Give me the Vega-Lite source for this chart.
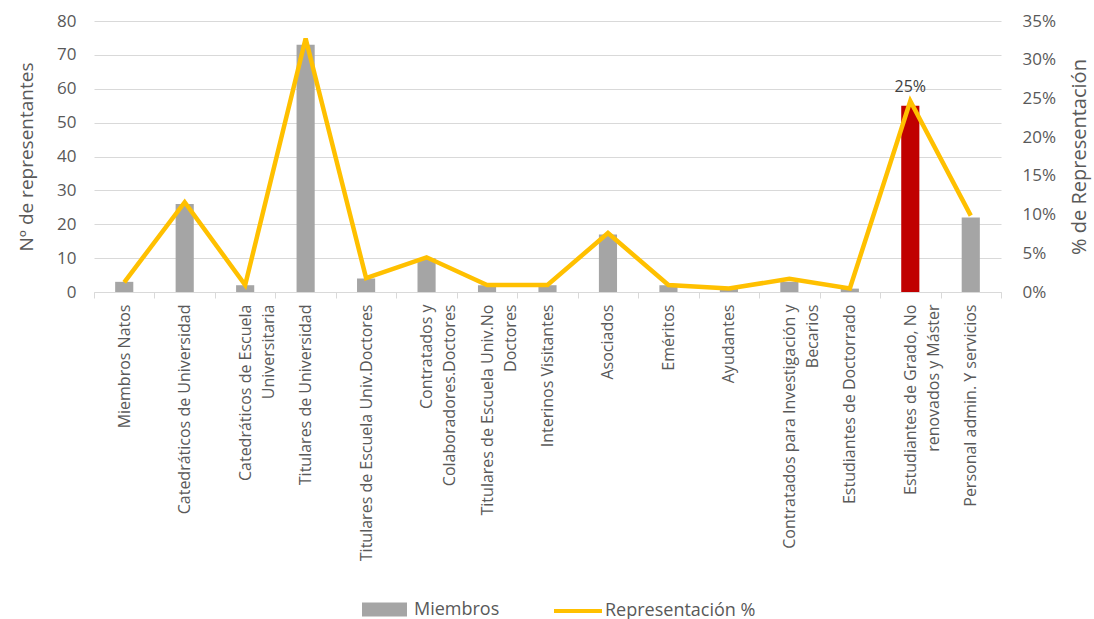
{
  "$schema": "https://vega.github.io/schema/vega-lite/v6.json",
  "width": 907,
  "height": 271,
  "autosize": {"type": "none"},
  "padding": {"left": 94, "top": 21, "right": 93, "bottom": 327},
  "background": "white",
  "config": {
    "font": "Open Sans",
    "view": {"stroke": null},
    "axis": {"labelColor": "#595959", "titleColor": "#595959", "titleFontWeight": "normal"}
  },
  "data": {
    "values": [
      {"cat": "Miembros Natos", "miembros": 3, "pct": 0.0125, "destacado": false},
      {"cat": "Catedráticos de Universidad", "miembros": 26, "pct": 0.1160, "destacado": false},
      {"cat": "Catedráticos de Escuela|Universitaria", "miembros": 2, "pct": 0.0090, "destacado": false},
      {"cat": "Titulares de Universidad", "miembros": 73, "pct": 0.3274, "destacado": false},
      {"cat": "Titulares de Escuela Univ.Doctores", "miembros": 4, "pct": 0.0179, "destacado": false},
      {"cat": "Contratados y|Colaboradores.Doctores", "miembros": 10, "pct": 0.0448, "destacado": false},
      {"cat": "Titulares de Escuela Univ.No|Doctores", "miembros": 2, "pct": 0.0090, "destacado": false},
      {"cat": "Interinos Visitantes", "miembros": 2, "pct": 0.0090, "destacado": false},
      {"cat": "Asociados", "miembros": 17, "pct": 0.0762, "destacado": false},
      {"cat": "Eméritos", "miembros": 2, "pct": 0.0090, "destacado": false},
      {"cat": "Ayudantes", "miembros": 1, "pct": 0.0045, "destacado": false},
      {"cat": "Contratados para Investigación y|Becarios", "miembros": 3, "pct": 0.0170, "destacado": false},
      {"cat": "Estudiantes de Doctorrado", "miembros": 1, "pct": 0.0045, "destacado": false},
      {"cat": "Estudiantes de Grado, No|renovados y Máster", "miembros": 55, "pct": 0.2466, "destacado": true},
      {"cat": "Personal admin. Y servicios", "miembros": 22, "pct": 0.0987, "destacado": false}
    ]
  },
  "encoding": {
    "x": {
      "field": "cat", "type": "nominal", "sort": null,
      "scale": {"paddingInner": 0, "paddingOuter": 0},
      "axis": {
        "title": null,
        "labelAngle": -90,
        "labelAlign": "right",
        "labelBaseline": "middle",
        "labelExpr": "split(datum.label, '|')",
        "labelFontSize": 16,
        "labelLineHeight": 23,
        "labelPadding": 6,
        "labelLimit": 500,
        "labelOverlap": false,
        "tickBand": "extent",
        "tickSize": 6,
        "tickColor": "#D9D9D9",
        "domainColor": "#D9D9D9",
        "grid": false
      }
    }
  },
  "layer": [
    {
      "encoding": {
        "y": {
          "field": "miembros", "type": "quantitative",
          "scale": {"domain": [0, 80], "nice": false},
          "axis": {
            "title": "Nº de representantes",
            "titleFontSize": 19,
            "titlePadding": 20,
            "values": [0, 10, 20, 30, 40, 50, 60, 70, 80],
            "labelFontSize": 17,
            "labelPadding": 18,
            "labelOverlap": false,
            "domain": false,
            "ticks": false,
            "grid": true,
            "gridColor": "#D9D9D9"
          }
        }
      },
      "layer": [
        {
          "mark": {"type": "bar", "width": {"band": 0.3}},
          "encoding": {
            "fill": {
              "condition": {"test": "datum.destacado", "value": "#C00000"},
              "datum": "Miembros", "type": "nominal",
              "scale": {"domain": ["Miembros"], "range": ["#A5A5A5"]},
              "legend": {
                "title": null,
                "orient": "none",
                "legendX": 268,
                "legendY": 566,
                "symbolType": "M-1,-0.31H1V0.31H-1Z",
                "symbolSize": 2025,
                "symbolStrokeWidth": 0,
                "labelFontSize": 18,
                "labelColor": "#595959",
                "labelOffset": 7
              }
            }
          }
        },
        {
          "transform": [{"filter": "datum.destacado"}],
          "mark": {"type": "text", "dy": -19, "fontSize": 16, "color": "#404040"},
          "encoding": {
            "text": {"field": "pct", "type": "quantitative", "format": ".0%"}
          }
        }
      ]
    },
    {
      "mark": {"type": "line", "strokeWidth": 4.5, "strokeJoin": "miter", "strokeCap": "butt"},
      "encoding": {
        "y": {
          "field": "pct", "type": "quantitative",
          "scale": {"domain": [0, 0.35], "nice": false},
          "axis": {
            "orient": "right",
            "title": "% de Representación",
            "titleFontSize": 20,
            "titleAngle": 270,
            "titleBaseline": "top",
            "titlePadding": 14,
            "values": [0, 0.05, 0.1, 0.15, 0.2, 0.25, 0.3, 0.35],
            "format": ".0%",
            "labelFontSize": 17,
            "labelPadding": 21,
            "labelOverlap": false,
            "domain": false,
            "ticks": false,
            "grid": false
          }
        },
        "stroke": {
          "datum": "Representación %", "type": "nominal",
          "scale": {"domain": ["Representación %"], "range": ["#FFC000"]},
          "legend": {
            "title": null,
            "orient": "none",
            "legendX": 458,
            "legendY": 564,
            "symbolType": "stroke",
            "symbolSize": 2304,
            "symbolStrokeWidth": 4,
            "labelFontSize": 18,
            "labelColor": "#595959",
            "labelOffset": 1
          }
        }
      }
    }
  ],
  "resolve": {"scale": {"y": "independent"}}
}
